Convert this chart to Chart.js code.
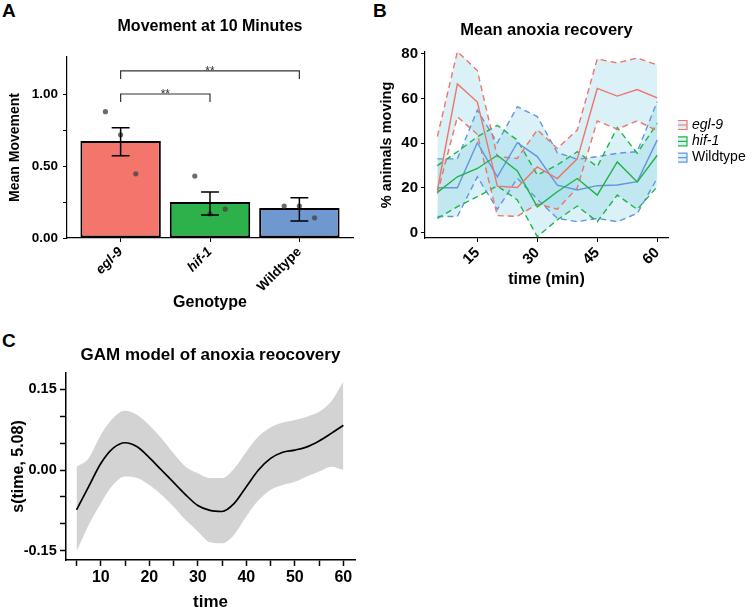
<!DOCTYPE html>
<html>
<head>
<meta charset="utf-8">
<script src="https://cdn.jsdelivr.net/npm/chart.js@4.4.1/dist/chart.umd.min.js"></script>
<style>
  body { margin: 0; width: 753px; height: 610px; overflow: hidden; background: #fff; position: relative; font-family: 'Liberation Sans', Arial, sans-serif; }
  canvas { position: absolute; }
  .tag { position: absolute; font-weight: bold; font-size: 19px; line-height: 19px; }
</style>
</head>
<body>
<div class="tag" style="left:2px;top:1px">A</div>
<div class="tag" style="left:373px;top:1px">B</div>
<div class="tag" style="left:2px;top:331px">C</div>
<canvas id="chartA" width="370" height="320" style="left:0;top:0"></canvas>
<canvas id="chartB" width="383" height="320" style="left:370px;top:0"></canvas>
<canvas id="chartC" width="370" height="283" style="left:0;top:330px"></canvas>
<script>
// panel A - movement at 10 minutes
var genotypes = ['egl-9', 'hif-1', 'Wildtype'];
var meanMovement = [0.674, 0.25, 0.208];
var movementLow = [0.571, 0.16, 0.118];
var movementHigh = [0.765, 0.32, 0.28];
var replicateOffset = [-0.17, 0, 0.17];
var replicateValues = [[0.877, 0.717, 0.446], [0.43, 0.167, 0.20], [0.222, 0.222, 0.14]];
var movementTicks = [0, 0.25, 0.5, 0.75, 1.0];
var bracketFrom = [1, 1];
var bracketTo = [3, 2];
var bracketHeight = [1.16, 1.0];
var bracketLabel = ['**', '**'];

// panel B - mean anoxia recovery (% moving, mean with upper / lower band)
var minutes = [5, 10, 15, 20, 25, 30, 35, 40, 45, 50, 55, 60];
var egl9Mean = [19, 66.5, 58.4, 20.8, 20.2, 29.4, 24.2, 33, 64.5, 61.1, 64, 60.3];
var egl9Upper = [43, 81, 72.5, 34, 33.2, 46, 37.7, 45.9, 77.7, 75.9, 78.1, 75];
var egl9Lower = [17.5, 51.8, 44, 7.6, 7.3, 12.8, 10.5, 20, 50, 46.3, 50, 45.6];
var hif1Mean = [18, 25, 28.7, 34.6, 27.6, 11.5, 18.3, 24.2, 16.8, 31.6, 22.7, 34.6];
var hif1Upper = [30, 36.2, 42.9, 48, 41.4, 25.8, 30.3, 36.2, 29.5, 47, 35.5, 48.9];
var hif1Lower = [6.4, 11.6, 16.1, 20.9, 14.6, -1.8, 5.7, 11.9, 4.9, 16.8, 10.4, 20.6];
var wtMean = [20.1, 20.1, 40.2, 25, 40.2, 34, 21.2, 19.1, 21, 21.3, 22.8, 41.4];
var wtUpper = [33, 33, 54.8, 40.2, 56.3, 51.9, 35.8, 32.8, 34, 35.5, 36.2, 58.6];
var wtLower = [7.2, 7.2, 25, 10.4, 24.3, 14.9, 6.4, 4.9, 6.4, 4.9, 8.6, 24.3];
var recoveryYTicks = [0, 20, 40, 60, 80];
var recoveryXTicks = [15, 30, 45, 60];

// panel C - GAM smooth of time
var gamTime = [5, 7.5, 10, 12.5, 15, 17.5, 20, 22.5, 25, 27.5, 30, 32.5, 35, 37.5, 40, 42.5, 45, 47.5, 50, 52.5, 55, 57.5, 60];
var gamFit = [-0.074, -0.031, 0.012, 0.04, 0.0506, 0.043, 0.023, 0.0, -0.023, -0.046, -0.066, -0.075, -0.077, -0.062, -0.031, 0.0, 0.0216, 0.033, 0.037, 0.043, 0.054, 0.068, 0.083];
var gamUpper = [0.006, 0.022, 0.065, 0.096, 0.11, 0.102, 0.083, 0.059, 0.031, 0.006, -0.006, -0.015, -0.015, 0.003, 0.034, 0.062, 0.079, 0.088, 0.093, 0.099, 0.108, 0.127, 0.164];
var gamLower = [-0.151, -0.102, -0.062, -0.028, -0.012, -0.015, -0.028, -0.046, -0.068, -0.093, -0.114, -0.134, -0.136, -0.12, -0.086, -0.056, -0.037, -0.028, -0.022, -0.012, -0.003, 0.006, 0.0];
var gamYTicks = [-0.15, -0.1, -0.05, 0, 0.05, 0.1, 0.15];
var gamXTicks = [5, 10, 15, 20, 25, 30, 35, 40, 45, 50, 55, 60];

var FONT = "'Liberation Sans', Arial, sans-serif";
Chart.defaults.font.family = FONT;
Chart.defaults.color = '#000';

function tickList(values) {
    return function(scale) {
        scale.ticks = values.map(function(v) { return { value: v }; });
    };
}

function axisStyle(tickLength, width) {
    return {
        display: true,
        drawOnChartArea: false,
        drawTicks: true,
        tickLength: tickLength,
        tickColor: '#000',
        tickWidth: width,
        offset: false
    };
}

document.addEventListener('DOMContentLoaded', function() {

    // ---------------- A ----------------
    var barPlugin = {
        id: 'barExtras',
        afterDatasetsDraw: function(chart) {
            var ctx = chart.ctx;
            var x = chart.scales.x, y = chart.scales.y;
            ctx.save();
            ctx.strokeStyle = '#000';
            ctx.lineWidth = 1.5;
            for (var i = 0; i < genotypes.length; i++) {
                var cx = x.getPixelForValue(i + 1);
                var half = x.getPixelForValue(i + 1.1) - cx;
                var top = y.getPixelForValue(movementHigh[i]);
                var bot = y.getPixelForValue(movementLow[i]);
                ctx.beginPath();
                ctx.moveTo(cx, top); ctx.lineTo(cx, bot);
                ctx.moveTo(cx - half, top); ctx.lineTo(cx + half, top);
                ctx.moveTo(cx - half, bot); ctx.lineTo(cx + half, bot);
                ctx.stroke();
            }
            // significance brackets
            ctx.strokeStyle = '#333';
            ctx.lineWidth = 1.2;
            ctx.fillStyle = '#333';
            ctx.font = '12px ' + FONT;
            ctx.textAlign = 'center';
            ctx.textBaseline = 'alphabetic';
            for (var k = 0; k < bracketFrom.length; k++) {
                var x1 = x.getPixelForValue(bracketFrom[k]);
                var x2 = x.getPixelForValue(bracketTo[k]);
                var yb = y.getPixelForValue(bracketHeight[k]);
                var yt = y.getPixelForValue(bracketHeight[k] - 0.055);
                ctx.beginPath();
                ctx.moveTo(x1, yt); ctx.lineTo(x1, yb); ctx.lineTo(x2, yb); ctx.lineTo(x2, yt);
                ctx.stroke();
                ctx.fillText(bracketLabel[k], (x1 + x2) / 2, yb + 4);
            }
            ctx.restore();
        }
    };

    var points = [];
    replicateValues.forEach(function(vals, g) {
        vals.forEach(function(v, j) {
            points.push({ x: g + 1 + replicateOffset[j], y: v });
        });
    });

    new Chart(document.getElementById('chartA'), {
        type: 'bar',
        data: {
            datasets: [{
                type: 'scatter',
                data: points,
                backgroundColor: 'rgba(70,70,70,0.8)',
                borderWidth: 0,
                pointRadius: 2.6,
                order: 0
            }, {
                type: 'bar',
                data: meanMovement.map(function(v, i) { return { x: i + 1, y: v }; }),
                backgroundColor: ['#F4756C', '#2DB24B', '#6F98D0'],
                borderColor: '#000',
                borderWidth: 2,
                borderSkipped: false,
                barPercentage: 0.9,
                categoryPercentage: 1.0,
                order: 1
            }]
        },
        options: {
            responsive: false,
            animation: false,
            layout: { padding: { top: 8, left: 0, right: 17, bottom: 6 } },
            plugins: {
                legend: { display: false },
                tooltip: { enabled: false },
                title: {
                    display: true,
                    text: 'Movement at 10 Minutes',
                    fullSize: false,
                    font: { size: 16, weight: 'bold' },
                    padding: { top: 9.4, bottom: 20.4 }
                }
            },
            scales: {
                x: {
                    type: 'linear',
                    min: 0.4,
                    max: 3.6,
                    offset: false,
                    afterBuildTicks: tickList([1, 2, 3]),
                    afterFit: function(s) { s.height = 76; },
                    grid: axisStyle(4, 1),
                    border: { display: true, color: '#000', width: 1.2 },
                    ticks: {
                        autoSkip: false,
                        minRotation: 45,
                        maxRotation: 45,
                        padding: 2,
                        callback: function(v) { return genotypes[v - 1]; },
                        font: function(c) {
                            var name = genotypes[c.index];
                            return { size: 13.5, weight: 'bold', style: name === 'Wildtype' ? 'normal' : 'italic' };
                        }
                    },
                    title: {
                        display: true,
                        text: 'Genotype',
                        font: { size: 16, weight: 'bold' },
                        padding: { top: 0, bottom: 1.4 }
                    }
                },
                y: {
                    min: 0,
                    max: 1.257,
                    afterBuildTicks: tickList(movementTicks),
                    afterFit: function(s) { s.width = 67; },
                    grid: axisStyle(4, 1),
                    border: { display: true, color: '#000', width: 1.2 },
                    ticks: {
                        autoSkip: false,
                        padding: 5,
                        font: { size: 13.5, weight: 'bold' },
                        callback: function(v) { return (v === 0.25 || v === 0.75) ? '' : v.toFixed(2); }
                    },
                    title: {
                        display: true,
                        text: 'Mean Movement',
                        font: { size: 14, weight: 'bold' },
                        padding: { top: 6.9, bottom: 0 }
                    }
                }
            }
        },
        plugins: [barPlugin]
    });

    // ---------------- B ----------------
    var RIBBON = 'rgba(150,215,232,0.35)';
    var RED = '#F0746A', GREEN = '#1FB445', BLUE = '#6495E0';

    function pts(vals) {
        return vals.map(function(v, i) { return { x: minutes[i], y: v }; });
    }
    function band(vals, color, fillTarget) {
        return {
            data: pts(vals),
            borderColor: color,
            borderWidth: 1.4,
            borderDash: [6, 4],
            pointRadius: 0,
            tension: 0,
            fill: fillTarget,
            backgroundColor: RIBBON,
            order: 2
        };
    }
    function meanLine(vals, color) {
        return {
            data: pts(vals),
            borderColor: color,
            borderWidth: 1.4,
            pointRadius: 0,
            tension: 0,
            fill: false,
            order: 1
        };
    }

    var legendPlugin = {
        id: 'ribbonLegend',
        afterDraw: function(chart) {
            var ctx = chart.ctx;
            var left = chart.chartArea.right + 10;
            var names = ['egl-9', 'hif-1', 'Wildtype'];
            var colors = [RED, GREEN, BLUE];
            ctx.save();
            for (var i = 0; i < names.length; i++) {
                var cy = chart.chartArea.top + 73 + i * 16.3;
                ctx.fillStyle = RIBBON;
                ctx.fillRect(left, cy - 4.5, 9, 9);
                ctx.strokeStyle = colors[i];
                ctx.lineWidth = 1.2;
                ctx.beginPath();
                ctx.moveTo(left, cy - 4.5); ctx.lineTo(left + 9, cy - 4.5); ctx.lineTo(left + 9, cy + 4.5); ctx.lineTo(left, cy + 4.5);
                ctx.moveTo(left, cy); ctx.lineTo(left + 9, cy);
                ctx.stroke();
                ctx.fillStyle = '#000';
                ctx.font = (i < 2 ? 'italic ' : '') + '14px ' + FONT;
                ctx.textAlign = 'left';
                ctx.textBaseline = 'middle';
                ctx.fillText(names[i], left + 14, cy);
            }
            ctx.restore();
        }
    };

    new Chart(document.getElementById('chartB'), {
        type: 'line',
        data: {
            datasets: [
                band(egl9Upper, RED, '+1'), band(egl9Lower, RED, false),
                band(hif1Upper, GREEN, '+1'), band(hif1Lower, GREEN, false),
                band(wtUpper, BLUE, '+1'), band(wtLower, BLUE, false),
                meanLine(egl9Mean, RED), meanLine(hif1Mean, GREEN), meanLine(wtMean, BLUE)
            ]
        },
        options: {
            responsive: false,
            animation: false,
            layout: { padding: { top: 8, left: 0, right: 85, bottom: 6 } },
            plugins: {
                legend: { display: false },
                tooltip: { enabled: false },
                filler: { drawTime: 'beforeDatasetsDraw' },
                title: {
                    display: true,
                    text: 'Mean anoxia recovery',
                    fullSize: false,
                    font: { size: 16.5, weight: 'bold' },
                    padding: { top: 12.1, bottom: 12.1 }
                }
            },
            scales: {
                x: {
                    type: 'linear',
                    min: 1.9,
                    max: 62.7,
                    afterBuildTicks: tickList(recoveryXTicks),
                    afterFit: function(s) { s.height = 76; },
                    grid: axisStyle(4, 1),
                    border: { display: true, color: '#000', width: 1.2 },
                    ticks: {
                        autoSkip: false,
                        minRotation: 45,
                        maxRotation: 45,
                        padding: 2,
                        font: { size: 15, weight: 'bold' }
                    },
                    title: {
                        display: true,
                        text: 'time (min)',
                        font: { size: 16, weight: 'bold' },
                        padding: { top: 0, bottom: 24.4 }
                    }
                },
                y: {
                    min: -2.4,
                    max: 80.8,
                    afterBuildTicks: tickList(recoveryYTicks),
                    afterFit: function(s) { s.width = 55; },
                    grid: axisStyle(4, 1),
                    border: { display: true, color: '#000', width: 1.2 },
                    ticks: {
                        autoSkip: false,
                        padding: 3,
                        font: { size: 15, weight: 'bold' }
                    },
                    title: {
                        display: true,
                        text: '% animals moving',
                        font: { size: 14.5, weight: 'bold' },
                        padding: { top: 8, bottom: 0 }
                    }
                }
            }
        },
        plugins: [legendPlugin]
    });

    // ---------------- C ----------------
    function gamPts(vals) {
        return vals.map(function(v, i) { return { x: gamTime[i], y: v }; });
    }

    new Chart(document.getElementById('chartC'), {
        type: 'line',
        data: {
            datasets: [{
                data: gamPts(gamUpper),
                borderWidth: 0,
                pointRadius: 0,
                cubicInterpolationMode: 'monotone',
                fill: '+1',
                backgroundColor: '#D3D3D3'
            }, {
                data: gamPts(gamLower),
                borderWidth: 0,
                pointRadius: 0,
                cubicInterpolationMode: 'monotone',
                fill: false
            }, {
                data: gamPts(gamFit),
                borderColor: '#000',
                borderWidth: 1.7,
                pointRadius: 0,
                cubicInterpolationMode: 'monotone',
                fill: false
            }]
        },
        options: {
            responsive: false,
            animation: false,
            layout: { padding: { top: 4, left: 0, right: 15, bottom: 0 } },
            plugins: {
                legend: { display: false },
                tooltip: { enabled: false },
                filler: { drawTime: 'beforeDatasetsDraw' },
                title: {
                    display: true,
                    text: 'GAM model of anoxia reocovery',
                    fullSize: false,
                    font: { size: 17, weight: 'bold' },
                    padding: { top: 10.8, bottom: 7.8 }
                }
            },
            scales: {
                x: {
                    type: 'linear',
                    min: 2.83,
                    max: 62.4,
                    afterBuildTicks: tickList(gamXTicks),
                    afterFit: function(s) { s.height = 53; },
                    grid: axisStyle(6, 1.5),
                    border: { display: true, color: '#000', width: 1.5 },
                    ticks: {
                        autoSkip: false,
                        maxRotation: 0,
                        padding: 2.4,
                        font: { size: 16, weight: 'bold' },
                        callback: function(v) { return v % 10 === 0 ? v : ''; }
                    },
                    title: {
                        display: true,
                        text: 'time',
                        font: { size: 17, weight: 'bold' },
                        padding: { top: 0, bottom: 0 }
                    }
                },
                y: {
                    min: -0.167,
                    max: 0.18,
                    afterBuildTicks: tickList(gamYTicks),
                    afterFit: function(s) { s.width = 66; },
                    grid: axisStyle(6, 1.5),
                    border: { display: true, color: '#000', width: 1.5 },
                    ticks: {
                        autoSkip: false,
                        padding: 3.3,
                        font: { size: 14.5, weight: 'bold' },
                        callback: function(v) { return (v === 0 || Math.abs(v) === 0.15) ? v.toFixed(2) : ''; }
                    },
                    title: {
                        display: true,
                        text: 's(time, 5.08)',
                        font: { size: 16, weight: 'bold' },
                        padding: { top: 8.7, bottom: 0 }
                    }
                }
            }
        }
    });
});
</script>
</body>
</html>
